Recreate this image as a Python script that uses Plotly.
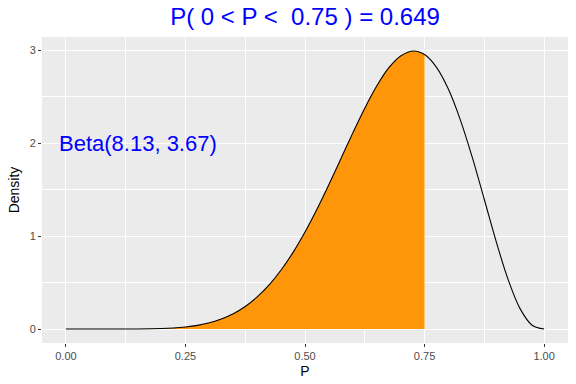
import plotly.graph_objects as go

# Density values (Beta(8.13, 3.67) curve)
p_vals = [0.0, 0.05, 0.1, 0.15, 0.2, 0.225, 0.25, 0.275, 0.3, 0.325, 0.35, 0.375, 0.4, 0.425,
          0.45, 0.475, 0.5, 0.525, 0.55, 0.575, 0.6, 0.625, 0.65, 0.675, 0.7, 0.7276, 0.75,
          0.775, 0.8, 0.825, 0.85, 0.875, 0.9, 0.925, 0.95, 0.975, 1.0]
density = [0.0, 0.0, 0.0001, 0.0008, 0.0053, 0.0113, 0.022, 0.0396, 0.067, 0.108, 0.165, 0.243,
           0.346, 0.475, 0.635, 0.824, 1.043, 1.288, 1.554, 1.830, 2.109, 2.375, 2.613, 2.807,
           2.936, 2.990, 2.951, 2.814, 2.578, 2.247, 1.843, 1.393, 0.938, 0.529, 0.217, 0.041, 0.0]
upper = 0.75
title_text = "P( 0 < P <  0.75 ) = 0.649"
label_text = "Beta(8.13, 3.67)"
x_ticks = [0.0, 0.25, 0.5, 0.75, 1.0]
x_tick_text = ["0.00", "0.25", "0.50", "0.75", "1.00"]
y_ticks = [0, 1, 2, 3]

shade_x = [x for x in p_vals if x <= upper]
shade_y = [d for x, d in zip(p_vals, density) if x <= upper]

fig = go.Figure()
fig.add_trace(go.Scatter(x=shade_x, y=shade_y, mode="lines", line=dict(width=0, shape="spline"),
                         fill="tozeroy", fillcolor="#FF9508", hoverinfo="skip"))
fig.add_trace(go.Scatter(x=p_vals, y=density, mode="lines",
                         line=dict(color="black", width=1.1, shape="spline")))

fig.add_annotation(x=0.15, y=2.0, text=label_text, showarrow=False,
                   font=dict(family="Liberation Sans, Arial", size=22, color="blue"))

fig.update_layout(
    width=576, height=384,
    margin=dict(l=42, r=8, t=37, b=41, autoexpand=False),
    paper_bgcolor="white", plot_bgcolor="#EBEBEB",
    showlegend=False,
    font=dict(family="Liberation Sans, Arial"),
    title=dict(text=title_text, x=(42 + 568) / 2 / 576, xanchor="center",
               y=1 - 17 / 384, yanchor="middle",
               font=dict(size=24, color="blue")),
)
fig.update_xaxes(range=[-0.05, 1.05], tickvals=x_ticks, ticktext=x_tick_text,
                 showgrid=True, gridcolor="white", gridwidth=1.1, zeroline=False,
                 ticks="outside", ticklen=3, tickcolor="#333333", automargin=False,
                 tickfont=dict(size=11, color="#4D4D4D"),
                 minor=dict(tickvals=[0.125, 0.375, 0.625, 0.875], showgrid=True,
                            gridcolor="white", gridwidth=0.5, ticks=""),
                 title=dict(text="P", font=dict(size=14, color="black"), standoff=4))
fig.update_yaxes(range=[-0.15, 3.14], tickvals=y_ticks,
                 showgrid=True, gridcolor="white", gridwidth=1.1, zeroline=False,
                 ticks="outside", ticklen=3, tickcolor="#333333", automargin=False,
                 tickfont=dict(size=11, color="#4D4D4D"),
                 minor=dict(tickvals=[0.5, 1.5, 2.5], showgrid=True,
                            gridcolor="white", gridwidth=0.5, ticks=""),
                 title=dict(text="Density", font=dict(size=14, color="black"), standoff=6))

fig.write_html("out.html", config={"displayModeBar": False},
               post_script="document.body.style.margin='0';")
